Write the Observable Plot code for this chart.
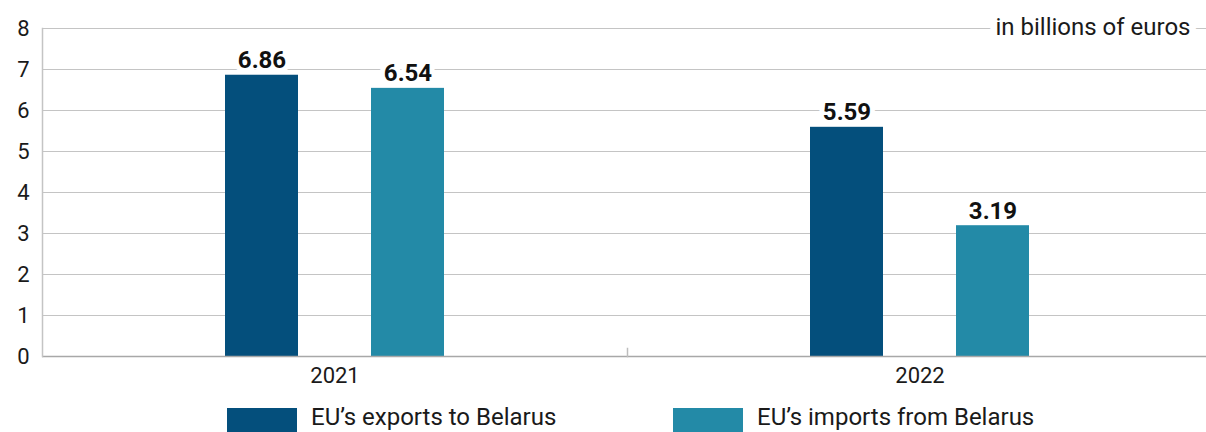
<!DOCTYPE html>
<html>
<head>
<meta charset="utf-8">
<script src="https://cdn.jsdelivr.net/npm/d3@7"></script>
<script src="https://cdn.jsdelivr.net/npm/@observablehq/plot@0.6"></script>
<style>
  body { margin: 0; background: #fff; font-family: Roboto, "Noto Sans", sans-serif; }
  #wrap { position: relative; width: 1206px; height: 432px; overflow: hidden; }
  #legend { position: relative; height: 32px; }
  .item { position: absolute; top: 8px; height: 24px; display: flex; align-items: center; font-size: 24px; line-height: 24px; color: #1a1a1a; }
  .item span { position: relative; top: -3px; }
  .sw { width: 70px; height: 24px; margin-right: 14px; flex: none; }
</style>
</head>
<body>
<div id="wrap"><div id="chart"></div><div id="legend"></div></div>
<script>
const years = ["2021", "2022"];
const series = ["EU’s exports to Belarus", "EU’s imports from Belarus"];
const exportsValues = [6.86, 5.59];
const importsValues = [6.54, 3.19];
const colors = ["#044f7c", "#238aa7"];
const yTicks = [0, 1, 2, 3, 4, 5, 6, 7, 8];
const unitLabel = "in billions of euros";
const legendLeft = [227, 673];

const slots = [series[0], "", series[1]];
const rows = [];
years.forEach((yr, i) => {
  rows.push({year: yr, series: series[0], value: exportsValues[i]});
  rows.push({year: yr, series: series[1], value: importsValues[i]});
});

const chart = Plot.plot({
  width: 1206,
  height: 400,
  marginLeft: 42,
  marginRight: -6,
  marginTop: 28,
  marginBottom: 44,
  style: {fontFamily: "Roboto", fontSize: "22px", color: "#1a1a1a", background: "white"},
  fx: {domain: years, padding: 0, label: null},
  x: {domain: slots, paddingInner: 0, paddingOuter: 2.453, axis: null},
  y: {domain: [0, 8], axis: null},
  color: {domain: series, range: colors},
  marks: [
    Plot.ruleY(yTicks.slice(1), {y: d => d, stroke: "#c4c4c4", strokeWidth: 1}),
    Plot.barY(rows, {fx: "year", x: "series", y: "value", fill: "series"}),
    Plot.ruleY([0], {stroke: "#a8a8a8", strokeWidth: 1.5}),
    Plot.frame({anchor: "left", facetAnchor: "left", stroke: "#c4c4c4", strokeWidth: 1.5}),
    Plot.frame({anchor: "left", facetAnchor: "right", stroke: "#bdbdbd", strokeWidth: 1.5, insetTop: 320}),
    Plot.text(rows, {fx: "year", x: "series", y: "value", text: d => d.value.toFixed(2),
      lineAnchor: "bottom", dy: -7, fontWeight: 700, fontSize: 24, fill: "#111",
      stroke: "white", strokeWidth: 10, paintOrder: "stroke"}),
    Plot.text([unitLabel], {text: d => d, frameAnchor: "top-right", facetAnchor: "right",
      textAnchor: "end", lineAnchor: "middle", dx: -22, dy: -1, fontSize: 24, fill: "#1a1a1a",
      stroke: "white", strokeWidth: 14, paintOrder: "stroke"}),
    Plot.axisY(yTicks, {tickSize: 0, tickPadding: 13, fontSize: 22, label: null, fill: "#1a1a1a"}),
    Plot.axisFx({anchor: "bottom", tickSize: 0, tickPadding: 11, fontSize: 22, label: null, fill: "#1a1a1a"})
  ]
});
document.getElementById("chart").appendChild(chart);

const legend = document.getElementById("legend");
series.forEach((s, i) => {
  const it = document.createElement("div");
  it.className = "item";
  it.style.left = legendLeft[i] + "px";
  const sw = document.createElement("div");
  sw.className = "sw";
  sw.style.background = colors[i];
  const tx = document.createElement("span");
  tx.textContent = s;
  it.appendChild(sw);
  it.appendChild(tx);
  legend.appendChild(it);
});
</script>
</body>
</html>
